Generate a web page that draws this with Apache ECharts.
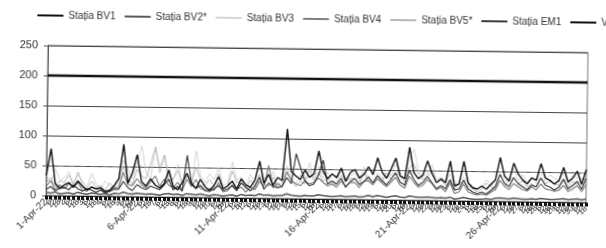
<!DOCTYPE html>
<html lang="ro">
<head>
<meta charset="UTF-8">
<title>NO2 - Aprilie 2022</title>
<script src="https://cdn.jsdelivr.net/npm/echarts@6/dist/echarts.min.js"></script>
<style>
    body { margin: 0; padding: 0; background: #fff; }
    #chart {
        width: 606px;
        height: 248px;
        transform: rotate(0.75deg);
        transform-origin: 317px 124px;
    }
</style>
</head>
<body>
<div id="chart"></div>
<script>
    // 6-hour steps, 1-Apr-22 00:00 .. 30-Apr-22 18:00
    var days = 30;
    var hours = [0, 6, 12, 18];

    var bv1 = [33,78,20,12, 18,22,14,25, 16,10,15,12, 14,8,10,18, 30,87,22,40,
               70,25,18,30, 20,15,22,45, 18,12,25,40, 22,15,30,18, 12,20,35,15,
               20,28,15,32, 22,18,30,62, 25,40,22,35, 30,116,45,38, 32,48,36,42,
               80,46,34,42, 36,52,30,45, 50,36,42,55, 42,70,46,36, 52,70,40,36,
               88,46,36,42, 66,45,30,36, 30,66,25,28, 66,30,22,20, 25,20,28,36,
               73,42,34,64, 46,36,30,40, 36,64,40,36, 30,36,58,34, 40,52,30,55];
    var bv2 = [5,4,6,3, 4,5,3,6, 4,3,5,4, 3,4,2,5, 4,7,5,4, 6,5,4,5, 4,3,5,6,
               4,5,3,6, 5,4,6,4, 3,5,4,3, 4,5,3,6, 4,5,4,7, 5,6,4,5, 5,8,6,5,
               4,6,5,5, 7,6,5,4, 5,6,4,5, 6,4,5,7, 5,7,6,4, 6,7,5,4, 7,6,5,5,
               6,5,4,5, 4,6,3,4, 6,4,3,3, 3,4,3,5, 6,5,4,6, 5,4,4,5, 4,6,5,4,
               4,5,6,4, 5,6,4,6];
    var bv3 = [35,20,45,25, 30,40,20,35, 25,15,38,20, 15,25,18,12, 20,60,45,30,
               55,85,40,30, 83,50,70,35, 30,55,25,40, 20,78,35,25, 40,30,50,20,
               25,60,30,35, 20,40,25,30, 35,25,45,20, 30,55,35,25, 40,30,60,35,
               55,35,45,30, 30,50,35,40, 45,30,55,35, 30,45,35,50, 40,60,45,35,
               70,85,50,40, 45,60,35,40, 30,45,25,35, 40,30,25,20, 25,35,30,20,
               45,30,40,55, 35,45,30,40, 30,50,35,45, 40,35,50,30, 45,40,50,45];
    var bv4 = [15,25,10,18, 12,20,15,22, 10,8,15,12, 12,6,10,14, 15,40,20,18,
               30,20,15,25, 35,18,30,20, 15,25,12,30, 18,30,15,12, 15,12,25,10,
               12,22,15,18, 10,18,14,28, 20,55,18,25, 20,45,30,25, 22,30,25,28,
               35,28,22,25, 20,30,22,28, 28,20,30,32, 25,35,28,22, 30,38,25,20,
               40,30,22,25, 35,28,18,22, 15,30,12,15, 28,15,12,10, 12,10,15,20,
               35,25,20,30, 25,20,18,25, 20,30,22,20, 18,20,28,18, 22,28,18,30];
    var bv5 = [20,30,15,25, 22,35,18,40, 20,12,25,15, 18,10,22,15, 25,50,30,20,
               45,35,30,55, 83,40,70,25, 30,45,20,35, 25,50,30,20, 30,20,40,15,
               20,45,25,30, 15,30,20,40, 25,20,35,18, 22,45,30,20, 30,25,50,30,
               45,30,35,25, 25,40,30,35, 35,25,45,30, 25,40,30,45, 35,50,40,30,
               55,60,45,35, 40,50,30,35, 25,35,20,30, 30,25,20,15, 20,30,25,18,
               35,25,35,40, 30,35,25,30, 25,40,30,35, 30,28,40,25, 35,30,40,38];
    var em1 = [10,15,8,12, 14,10,18,12, 8,12,10,6, 10,5,8,12, 12,25,15,10,
               20,15,12,18, 15,12,20,30, 12,18,10,70, 25,15,20,12, 10,15,20,12,
               15,20,12,25, 18,12,20,35, 15,25,20,18, 20,35,25,75, 52,30,22,25,
               40,65,25,30, 25,35,20,30, 35,25,30,38, 28,40,32,25, 35,45,30,25,
               50,35,25,30, 40,30,20,25, 20,35,18,20, 35,20,15,12, 15,12,18,25,
               45,30,25,40, 30,25,20,28, 25,40,28,25, 20,25,38,22, 28,35,22,40];
    var limit = 200;

    var categories = [];
    for (var d = 1; d <= days; d++) {
        hours.forEach(function (h) { categories.push(d + '-Apr-22 ' + h); });
    }
    var vl = categories.map(function () { return limit; });

    var chart = echarts.init(document.getElementById('chart'));

    function line(name, data, color, width, z) {
        return {
            name: name,
            type: 'line',
            data: data,
            symbol: 'none',
            z: z,
            lineStyle: { color: color, width: width },
            itemStyle: { color: color }
        };
    }

    var vlSeries = line('VL (200 µg/m³)', vl, '#111', 2.5, 10);
    vlSeries.markLine = {
        silent: true,
        symbol: 'none',
        label: { show: false },
        lineStyle: { color: '#666', type: [7, 4], width: 1 },
        data: [{ yAxis: 50 }]
    };

    var option = {
        backgroundColor: '#fff',
        textStyle: { fontFamily: 'Liberation Sans, Arial, sans-serif' },
        animation: false,
        legend: {
            left: 30,
            top: 9,
            width: 1200,
            itemWidth: 26,
            itemHeight: 10,
            itemGap: 8,
            itemStyle: { opacity: 0 },
            textStyle: { fontSize: 10, color: '#333' },
            data: ['Stația BV1', 'Stația BV2*', 'Stația BV3', 'Stația BV4',
                   'Stația BV5*', 'Stația EM1', 'VL (200 µg/m³)']
        },
        grid: {
            left: 47,
            right: 19,
            top: 49,
            bottom: 49,
            show: true,
            borderColor: '#777',
            borderWidth: 1
        },
        xAxis: {
            type: 'category',
            data: categories,
            boundaryGap: false,
            axisLine: { lineStyle: { color: '#222', width: 1 } },
            axisTick: { show: true, interval: 0, length: 4, lineStyle: { color: '#111', width: 3 } },
            axisLabel: {
                interval: 0,
                rotate: 45,
                margin: 5,
                color: '#333',
                formatter: function (v, i) {
                    var day = Math.floor(i / 4) + 1;
                    var h = hours[i % 4];
                    if (h === 0 && (day - 1) % 5 === 0) return '{d|' + day + '-Apr-22}';
                    return '{s|' + (h === 0 ? day : h) + '}';
                },
                rich: {
                    d: { fontSize: 10, color: '#333' },
                    s: { fontSize: 8, color: '#333' }
                }
            }
        },
        yAxis: {
            type: 'value',
            min: 0,
            max: 250,
            interval: 50,
            axisLine: { show: true, lineStyle: { color: '#555' } },
            axisTick: { show: true, length: 4, lineStyle: { color: '#555' } },
            axisLabel: { fontSize: 11, color: '#333', margin: 10 },
            splitLine: { lineStyle: { color: '#444', width: 1 } }
        },
        series: [
            line('Stația BV3', bv3, '#d6d6d6', 1, 2),
            line('Stația BV5*', bv5, '#b8b8b8', 1, 3),
            line('Stația BV4', bv4, '#808080', 1.2, 4),
            line('Stația BV2*', bv2, '#5a5a5a', 1.5, 5),
            line('Stația EM1', em1, '#3c3c3c', 1.2, 6),
            line('Stația BV1', bv1, '#111', 1.4, 7),
            vlSeries
        ]
    };

    chart.setOption(option);
</script>
</body>
</html>
